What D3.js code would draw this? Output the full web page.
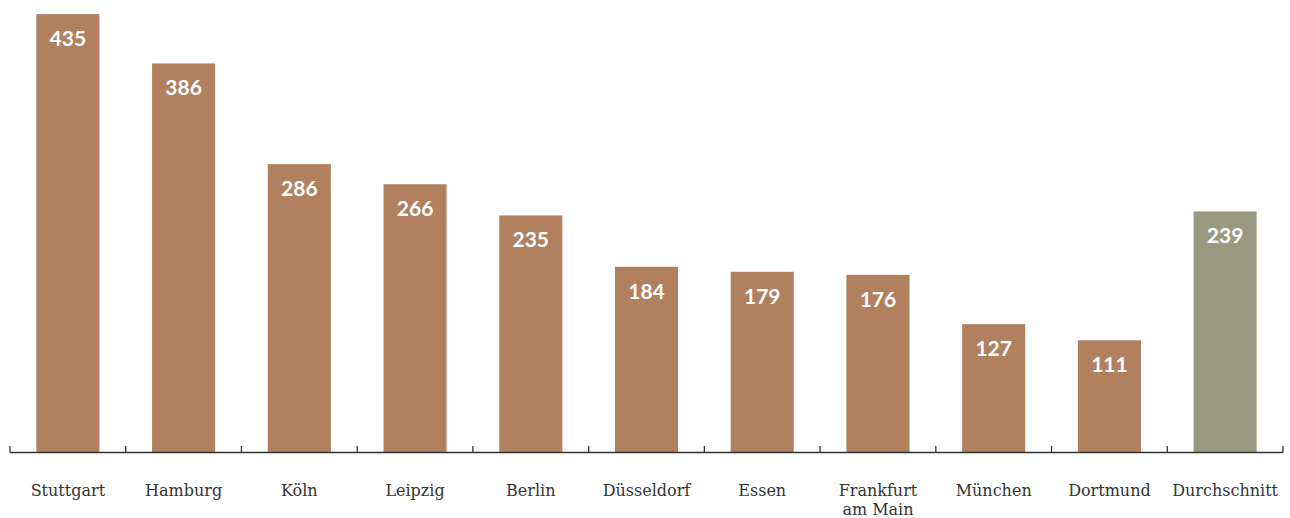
<!DOCTYPE html>
<html><head><meta charset="utf-8">
<script src="https://cdn.jsdelivr.net/npm/d3@7"></script>
<style>body{margin:0;background:#fff}svg{display:block}</style>
</head><body>
<svg id="c" width="1290" height="518"></svg>
<script>
const categories = ["Stuttgart","Hamburg","Köln","Leipzig","Berlin","Düsseldorf","Essen","Frankfurt am Main","München","Dortmund","Durchschnitt"];
const labelLines = [["Stuttgart"],["Hamburg"],["Köln"],["Leipzig"],["Berlin"],["Düsseldorf"],["Essen"],["Frankfurt","am Main"],["München"],["Dortmund"],["Durchschnitt"]];
const values = [435,386,286,266,235,184,179,176,127,111,239];
const highlight = ["Durchschnitt"];

const svg = d3.select("#c");
const x = d3.scaleBand().domain(categories).range([10,1283]).paddingInner(0.455).paddingOuter(0.2275);
const y = d3.scaleLinear().domain([0,450]).range([452,-1]);

svg.selectAll("rect.bar").data(categories).join("rect")
  .attr("x", d=>x(d)).attr("width", x.bandwidth())
  .attr("y", (d,i)=>y(values[i])).attr("height",(d,i)=>y(0)-y(values[i]))
  .attr("fill", d=>highlight.includes(d)?"#9A9A80":"#B1805F");

svg.selectAll("text.val").data(categories).join("text")
  .attr("x", d=>x(d)+x.bandwidth()/2).attr("y",(d,i)=>y(values[i])+32)
  .attr("text-anchor","middle").attr("fill","#fff")
  .style("font-family","Lato, 'Open Sans', sans-serif").style("font-weight","bold").style("font-size","21px")
  .text((d,i)=>values[i]);

const g = svg.append("g");
g.append("line").attr("x1",10).attr("x2",1283).attr("y1",452.5).attr("y2",452.5).attr("stroke","#333").attr("stroke-width",1.3);
g.selectAll("line.tick").data(d3.range(categories.length+1)).join("line")
  .attr("x1",i=>10+i*x.step()).attr("x2",i=>10+i*x.step())
  .attr("y1",446).attr("y2",452.5).attr("stroke","#333").attr("stroke-width",1.3);

svg.selectAll("text.cat").data(categories).join("text")
  .attr("x", d=>x(d)+x.bandwidth()/2).attr("y",496)
  .attr("text-anchor","middle").attr("fill","#333")
  .style("font-family","'DejaVu Serif', serif").style("font-size","16px")
  .each(function(d,i){
    const t=d3.select(this);
    labelLines[i].forEach((l,j)=>t.append("tspan").attr("x",x(d)+x.bandwidth()/2).attr("dy",j?19:0).text(l));
  });
</script>
</body></html>
